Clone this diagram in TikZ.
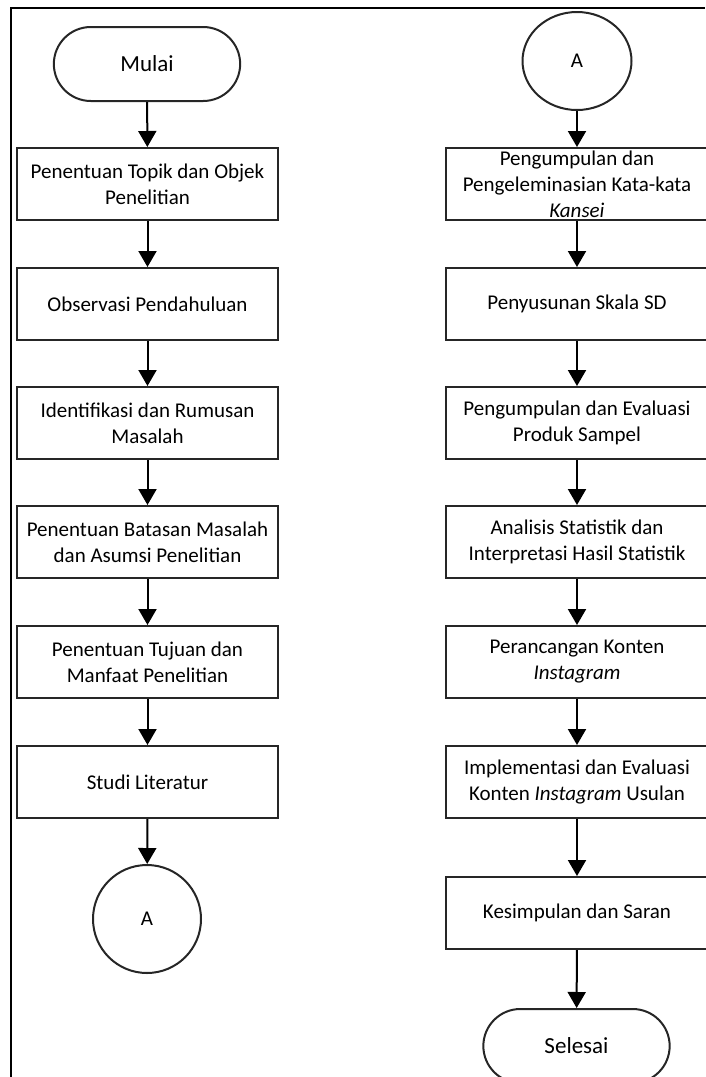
\documentclass[tikz,border=0pt]{standalone}
\usepackage{fontspec}
\setmainfont{Carlito}
\usetikzlibrary{shapes.geometric,shapes.misc,arrows.meta}

\begin{document}
\begin{tikzpicture}[x=1pt,y=-1pt,
  font=\fontsize{21}{26}\selectfont,
  proses/.style={draw=black!85,line width=2pt,rectangle,minimum width=261pt,minimum height=72pt,align=center,inner sep=0pt},
  terminal/.style={draw=black!85,line width=2pt,rounded rectangle,minimum width=193pt,minimum height=74pt,font=\fontsize{23}{28}\selectfont},
  penghubung/.style={draw=black!85,line width=2pt,ellipse,inner sep=0pt},
  alur/.style={line width=2pt,-{Triangle[width=18pt,length=16pt]}}]
\useasboundingbox (0,0) rectangle (705,1077);
\draw [line width=2.5pt] (11,1077) -- (11,8) -- (705,8);
% kolom kiri
\node[terminal] (mulai) at (147,64) {Mulai};
\node[proses] (k1) at (147.5,184) {Penentuan Topik dan Objek\\Penelitian};
\node[proses] (k2) at (147.5,304) {Observasi Pendahuluan};
\node[proses] (k3) at (147.5,423) {Identifikasi dan Rumusan\\Masalah};
\node[proses] (k4) at (147.5,542) {Penentuan Batasan Masalah\\dan Asumsi Penelitian};
\node[proses] (k5) at (147.5,662) {Penentuan Tujuan dan\\Manfaat Penelitian};
\node[proses] (k6) at (147.5,782) {Studi Literatur};
\node[penghubung,minimum width=108pt,minimum height=108pt] (A1) at (147,919) {A};
% kolom kanan
\node[penghubung,minimum width=109pt,minimum height=98pt] (A2) at (577,61) {A};
\node[proses,minimum width=263pt] (n1) at (577,184) {Pengumpulan dan\\Pengeleminasian Kata-kata\\\textit{Kansei}};
\node[proses,minimum width=263pt] (n2) at (577,304) {Penyusunan Skala SD};
\node[proses,minimum width=263pt] (n3) at (577,423) {Pengumpulan dan Evaluasi\\Produk Sampel};
\node[proses,minimum width=263pt] (n4) at (577,542) {Analisis Statistik dan\\Interpretasi Hasil Statistik};
\node[proses,minimum width=263pt] (n5) at (577,662) {Perancangan Konten\\\textit{Instagram}};
\node[proses,minimum width=263pt] (n6) at (577,782) {Implementasi dan Evaluasi\\Konten \textit{Instagram} Usulan};
\node[proses,minimum width=263pt] (n7) at (577,913) {Kesimpulan dan Saran};
\node[terminal] (selesai) at (576.5,1046) {Selesai};
\foreach \a/\b in {mulai/k1,k1/k2,k2/k3,k3/k4,k4/k5,k5/k6,k6/A1,A2/n1,n1/n2,n2/n3,n3/n4,n4/n5,n5/n6,n6/n7,n7/selesai}
	\draw[alur] (\a) -- (\b);
\end{tikzpicture}
\end{document}
